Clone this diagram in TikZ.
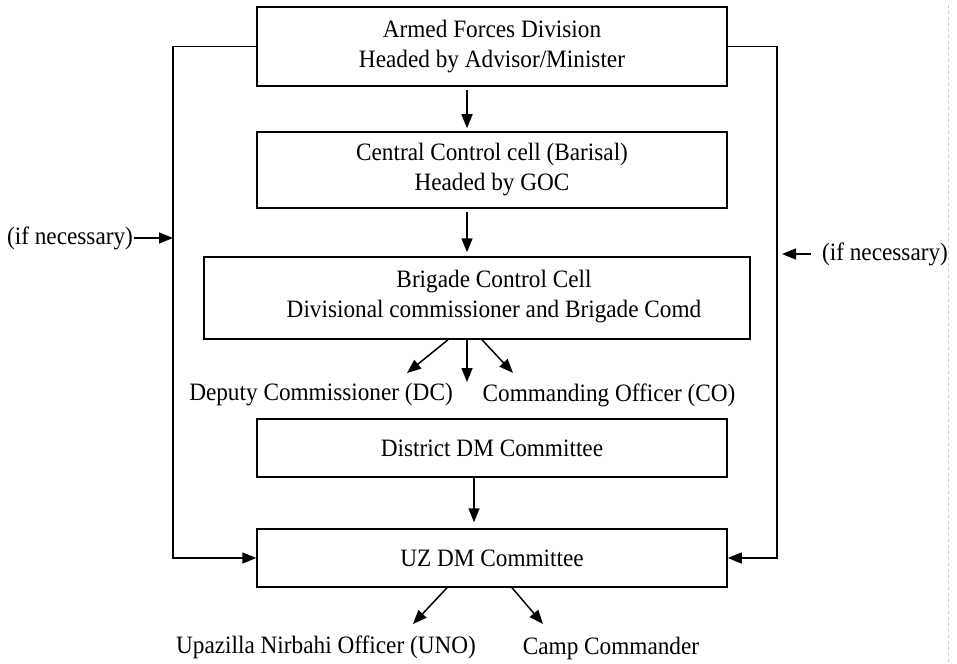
\documentclass[tikz,border=0pt]{standalone}
\usepackage{fontspec}
\setmainfont{Liberation Serif}[FakeStretch=0.93]
\usetikzlibrary{arrows.meta,calc}

\begin{document}
\begin{tikzpicture}[x=1pt,y=-1pt,
    box/.style={draw,line width=1.5pt,minimum width=470pt,inner sep=0pt,align=center},
    lbl/.style={inner sep=0pt,align=center},
    arr/.style={line width=1.5pt,-{Triangle[length=14pt,width=11pt]}},
    font=\fontsize{25}{30}\selectfont]
      \useasboundingbox (0,0) rectangle (957,663);
      \draw [red!20!gray!35,dash pattern=on 3pt off 3pt,line width=0.6pt] (948,5) -- (948,663); % page edge
      % boxes
      \node [box,minimum height=79pt] (afd) at (492,46.5) {Armed Forces Division\\Headed by Advisor/Minister};
      \node [box,minimum height=76pt] (ccc) at (492,170) {Central Control cell (Barisal)\\Headed by GOC};
      \node [box,minimum width=546pt,minimum height=82pt] (bcc) at (477,298) {};
      \node [lbl] (bcctxt) at (494,297) {Brigade Control Cell\\Divisional commissioner and Brigade Comd};
      \node [box,minimum height=58pt] (ddm) at (492,448) {District DM Committee};
      \node [box,minimum height=58pt] (uzdm) at (492,558) {UZ DM Committee};
      % plain labels
      \node [lbl] (dc) at (321,395) {Deputy Commissioner (DC)};
      \node [lbl] (co) at (609,395) {Commanding Officer (CO)};
      \node [lbl] (uno) at (326,647) {Upazilla Nirbahi Officer (UNO)};
      \node [lbl] (camp) at (611,648) {Camp Commander};
      \node [lbl] (ifl) at (70,238) {(if necessary)};
      \node [lbl] (ifr) at (885,254) {(if necessary)};
      % side lines
      \coordinate (lft) at (173,0);
      \coordinate (rgt) at (777,0);
      \draw [arr] (afd.west) -| (lft |- uzdm.west) -- (uzdm.west);
      \draw [arr] (afd.east) -| (rgt |- uzdm.east) -- (uzdm.east);
      \draw [arr] ([xshift=1pt]ifl.east) -- (ifl.east -| lft);
      \draw [arr] ([xshift=-11pt]ifr.west) -- ([xshift=5pt]ifr.west -| rgt);
      % down the chain
      \draw [arr,shorten <=3pt,shorten >=3pt] (afd.south -| 467,0) -- (ccc.north -| 467,0);
      \draw [arr,shorten <=3pt,shorten >=4pt] (ccc.south -| 467,0) -- (bcc.north -| 467,0);
      \coordinate (dctip) at (407,373);
      \coordinate (cotip) at (513,373);
      \draw [arr] (bcc.south -| 448,0) -- (dctip);
      \draw [arr] (bcc.south -| 467,0) -- (467,382);
      \draw [arr] (bcc.south -| 482,0) -- (cotip);
      \draw [arr,shorten >=6pt] (ddm.south -| 474,0) -- (uzdm.north -| 474,0);
      \coordinate (unotip) at (413,624);
      \coordinate (camptip) at (543,624);
      \draw [arr] (uzdm.south -| 447,0) -- (unotip);
      \draw [arr] (uzdm.south -| 512,0) -- (camptip);
\end{tikzpicture}
\end{document}
